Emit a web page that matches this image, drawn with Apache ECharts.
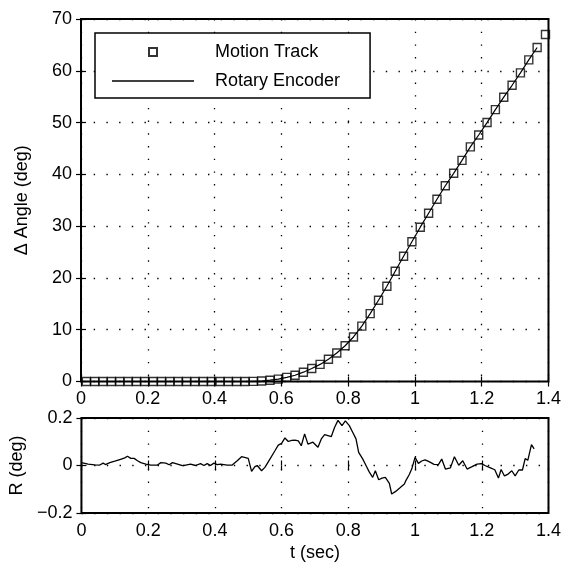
<!DOCTYPE html>
<html><head><meta charset="utf-8">
<script src="https://cdn.jsdelivr.net/npm/echarts@6/dist/echarts.min.js"></script>
<style>html,body{margin:0;padding:0;background:#fff}#c{width:564px;height:563px}</style>
</head><body><div id="c"></div>
<script>
// ---- data ----
const motionT = [0.016,0.041,0.066,0.091,0.116,0.141,0.166,0.191,0.216,0.241,0.266,0.291,0.316,0.341,0.366,0.391,0.416,0.441,0.466,0.491,0.516,0.541,0.566,0.591,0.616,0.641,0.666,0.691,0.716,0.741,0.766,0.791,0.816,0.841,0.866,0.891,0.916,0.941,0.966,0.991,1.016,1.041,1.066,1.091,1.116,1.141,1.166,1.191,1.216,1.241,1.266,1.291,1.316,1.341,1.366,1.391];
const motionV = [0,0,0,0,0,0,0,0,0,0,0,0,0,0,0,0,0,0,0,0,0.02,0.1,0.25,0.45,0.8,1.2,1.8,2.5,3.3,4.3,5.5,6.9,8.6,10.7,13.1,15.7,18.4,21.3,24.2,27.0,29.8,32.5,35.2,37.8,40.2,42.7,45.3,47.6,50.0,52.5,54.9,57.2,59.6,62.1,64.5,67.0];
const encoderT = [0,0.5,0.541,0.566,0.591,0.616,0.641,0.666,0.691,0.716,0.741,0.766,0.791,0.816,0.841,0.866,0.891,0.916,0.941,0.966,0.991,1.016,1.041,1.066,1.091,1.116,1.141,1.166,1.191,1.216,1.241,1.266,1.291,1.316,1.341,1.366];
const encoderV = [0,0,0.1,0.25,0.45,0.8,1.2,1.8,2.5,3.3,4.3,5.5,6.9,8.6,10.7,13.1,15.7,18.4,21.3,24.2,27.0,29.8,32.5,35.2,37.8,40.2,42.7,45.3,47.6,50.0,52.5,54.9,57.2,59.6,62.1,64.5];
const residT = [0.000,0.020,0.040,0.055,0.065,0.072,0.085,0.100,0.115,0.130,0.138,0.148,0.158,0.168,0.178,0.193,0.208,0.228,0.238,0.253,0.263,0.273,0.288,0.303,0.313,0.327,0.342,0.357,0.367,0.377,0.387,0.397,0.407,0.417,0.437,0.452,0.467,0.480,0.500,0.510,0.520,0.527,0.540,0.550,0.565,0.580,0.590,0.600,0.610,0.620,0.630,0.640,0.650,0.659,0.669,0.679,0.694,0.699,0.709,0.719,0.729,0.739,0.749,0.759,0.769,0.774,0.781,0.791,0.796,0.803,0.813,0.823,0.831,0.843,0.853,0.863,0.873,0.881,0.891,0.901,0.911,0.923,0.930,0.942,0.954,0.968,0.972,0.982,0.990,1.000,1.010,1.020,1.030,1.042,1.057,1.070,1.080,1.091,1.106,1.118,1.131,1.143,1.156,1.171,1.186,1.199,1.211,1.226,1.239,1.250,1.258,1.268,1.279,1.290,1.300,1.311,1.322,1.330,1.338,1.349,1.357];
const residV = [0.012,0.006,0.003,0.002,0.010,0.004,0.012,0.018,0.025,0.032,0.039,0.030,0.030,0.020,0.012,0.006,0.002,0.002,0.012,0.010,0.003,0.012,0.006,-0.001,0.002,0.006,0.000,0.008,0.000,0.008,0.000,0.010,0.004,0.006,0.002,0.002,0.020,0.037,0.030,-0.025,-0.005,0.000,-0.022,-0.008,0.027,0.062,0.086,0.093,0.116,0.101,0.106,0.107,0.104,0.083,0.133,0.090,0.098,0.096,0.077,0.112,0.130,0.126,0.122,0.161,0.190,0.196,0.168,0.188,0.193,0.168,0.140,0.112,0.055,0.028,0.000,-0.028,-0.050,-0.022,-0.060,-0.053,-0.050,-0.075,-0.120,-0.109,-0.095,-0.078,-0.065,-0.040,-0.015,0.034,0.009,0.019,0.024,0.016,0.005,0.004,0.027,-0.015,-0.010,0.037,0.001,0.020,-0.015,-0.005,0.006,0.008,-0.001,-0.010,-0.018,-0.053,-0.017,-0.044,-0.036,-0.022,-0.044,-0.019,-0.019,0.029,0.022,0.088,0.070];
const xTicks = {min:0, max:1.4, interval:0.2};
const yTopTicks = {min:0, max:70, interval:10};
const yBotTicks = {min:-0.2, max:0.2, interval:0.2};
const seriesNames = ['Motion Track','Rotary Encoder'];

// ---- chart ----
const FONT = 'Liberation Sans';
const zip = (a,b) => a.map((v,i)=>[v,b[i]]);
const dotted = {color:'#000', width:1.3, type:[1.4,11.3]};
const tick = {inside:true, length:5, lineStyle:{color:'#000', width:1.2}};
const lbl = {color:'#000', fontSize:18, fontFamily:FONT};
function ax(extra){
  return Object.assign({type:'value', axisLine:{show:false}, axisTick:tick,
    splitLine:{show:false}, axisLabel:Object.assign({show:true},lbl)}, extra);
}
const minusFmt = v => (v < 0 ? '\u2212' + Math.abs(v) : String(v));

const chart = echarts.init(document.getElementById('c'), null, {renderer:'canvas'});
chart.setOption({
  animation:false,
  backgroundColor:'#fff',
  grid:[
    {left:81, right:13, top:19, height:362.5, show:true, borderColor:'#000', borderWidth:2, backgroundColor:'transparent'},
    {left:81, right:13, top:418, height:95, show:true, borderColor:'#000', borderWidth:2, backgroundColor:'transparent'}
  ],
  xAxis:[
    ax(Object.assign({gridIndex:0, position:'bottom', splitLine:{show:true, lineStyle:dotted}, axisLabel:Object.assign({margin:9},lbl)}, xTicks)),
    ax(Object.assign({gridIndex:0, position:'top', axisLabel:{show:false}}, xTicks)),
    ax(Object.assign({gridIndex:1, position:'bottom', splitLine:{show:true, lineStyle:dotted}, axisLabel:Object.assign({margin:9},lbl),
      name:'t (sec)', nameLocation:'middle', nameGap:31, nameTextStyle:lbl}, xTicks)),
    ax(Object.assign({gridIndex:1, position:'top', axisLabel:{show:false}}, xTicks))
  ],
  yAxis:[
    ax(Object.assign({gridIndex:0, position:'left', splitLine:{show:true, lineStyle:dotted}, axisLabel:Object.assign({margin:9},lbl),
      name:'\u0394 Angle (deg)', nameLocation:'middle', nameGap:50, nameTextStyle:lbl}, yTopTicks)),
    ax(Object.assign({gridIndex:0, position:'right', axisLabel:{show:false}}, yTopTicks)),
    ax(Object.assign({gridIndex:1, position:'left', splitLine:{show:true, lineStyle:dotted}, axisLabel:Object.assign({margin:9, formatter:minusFmt},lbl),
      name:'R (deg)', nameLocation:'middle', nameGap:47, nameTextStyle:lbl}, yBotTicks)),
    ax(Object.assign({gridIndex:1, position:'right', axisLabel:{show:false}}, yBotTicks))
  ],
  legend:{
    data:[
      {name:seriesNames[0], icon:'path://M0,0H10V10H0Z'},
      {name:seriesNames[1], icon:'path://M0,0H82V1.3H0Z'}
    ],
    orient:'vertical', left:95, top:33,
    itemWidth:82, itemHeight:8, itemGap:11, symbolKeepAspect:true,
    padding:[10,30,8,17],
    borderColor:'#000', borderWidth:1.5, backgroundColor:'#fff',
    textStyle:Object.assign({padding:[0,0,0,16]}, lbl),
    selectedMode:false
  },
  series:[
    {name:'Rotary Encoder', type:'line', xAxisIndex:0, yAxisIndex:0, symbol:'none',
     data:zip(encoderT, encoderV), lineStyle:{color:'#000', width:1.2}, itemStyle:{color:'#000', borderWidth:0}, z:2},
    {name:'Motion Track', type:'scatter', xAxisIndex:0, yAxisIndex:0, symbol:'rect', symbolSize:8, clip:false,
     data:zip(motionT, motionV), itemStyle:{color:'rgba(0,0,0,0)', borderColor:'#000', borderWidth:1.4}, z:3},
    {name:'R', type:'line', xAxisIndex:2, yAxisIndex:2, symbol:'none',
     data:zip(residT, residV), lineStyle:{color:'#000', width:1.3}}
  ]
});
</script></body></html>
